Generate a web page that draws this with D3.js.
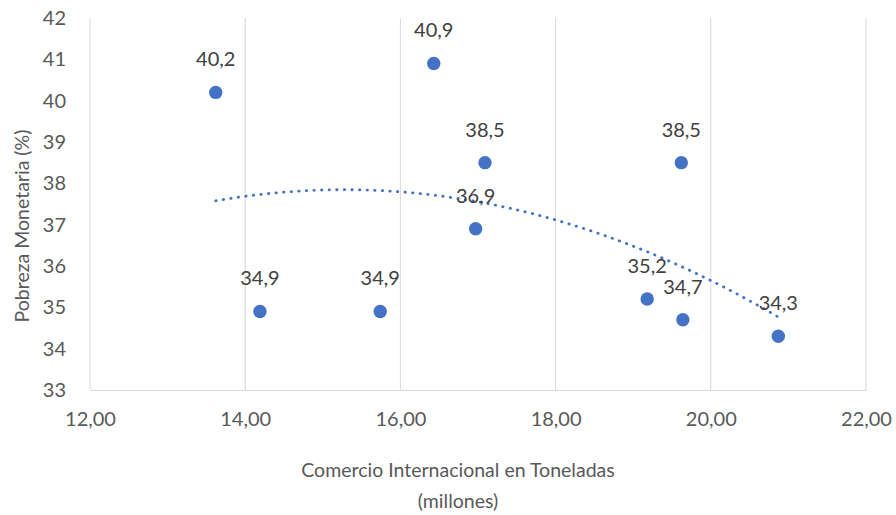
<!DOCTYPE html>
<html>
<head>
<meta charset="utf-8">
<script src="https://cdn.jsdelivr.net/npm/d3@7"></script>
<style>
  html, body { margin: 0; padding: 0; background: #fff; }
  svg { display: block; font-family: Lato, "Open Sans", sans-serif; }
</style>
</head>
<body>
<svg id="chart" width="896" height="515"></svg>
<script>
// Comercio internacional (millones de toneladas) vs. pobreza monetaria (%)
const comercio = [13.62, 14.19, 15.74, 16.43, 17.09, 16.97, 19.18, 19.62, 19.64, 20.87];
const pobreza  = [40.2, 34.9, 34.9, 40.9, 38.5, 36.9, 35.2, 38.5, 34.7, 34.3];
const xTicks = [12, 14, 16, 18, 20, 22];
const yTicks = [33, 34, 35, 36, 37, 38, 39, 40, 41, 42];

const svg = d3.select("#chart");

const x = d3.scaleLinear().domain([12, 22]).range([90, 866]);
const y = d3.scaleLinear().domain([33, 42]).range([390, 18]);

const fmtX = v => d3.format(".2f")(v).replace(".", ",");
const fmtY = v => d3.format(".1f")(v).replace(".", ",");

// vertical gridlines
svg.append("g")
  .selectAll("line")
  .data(xTicks)
  .join("line")
  .attr("x1", d => x(d)).attr("x2", d => x(d))
  .attr("y1", y(42)).attr("y2", y(33))
  .attr("stroke", "#d9d9d9").attr("stroke-width", 1);

// x axis
const xAxis = svg.append("g")
  .attr("transform", `translate(0,${y(33)})`)
  .call(d3.axisBottom(x).tickValues(xTicks).tickFormat(fmtX).tickSize(0).tickPadding(22));
xAxis.select(".domain").attr("stroke", "#d9d9d9");
xAxis.selectAll("text").attr("fill", "#595959").style("font-size", "20px").style("font-family", "Lato, sans-serif");

// y axis
const yAxis = svg.append("g")
  .attr("transform", `translate(${x(12)},0)`)
  .call(d3.axisLeft(y).tickValues(yTicks).tickFormat(d3.format("d")).tickSize(0).tickPadding(24));
yAxis.select(".domain").remove();
yAxis.selectAll("text").attr("fill", "#595959").style("font-size", "20px").style("font-family", "Lato, sans-serif");

// quadratic least-squares trendline
function polyFit2(xs, ys) {
  let s = [0, 0, 0, 0, 0], t = [0, 0, 0];
  xs.forEach((xi, i) => {
    let p = 1;
    for (let k = 0; k < 5; k++) { s[k] += p; if (k < 3) t[k] += p * ys[i]; p *= xi; }
  });
  const A = [[s[0], s[1], s[2], t[0]], [s[1], s[2], s[3], t[1]], [s[2], s[3], s[4], t[2]]];
  for (let c = 0; c < 3; c++) {
    for (let r = c + 1; r < 3; r++) {
      const f = A[r][c] / A[c][c];
      for (let k = c; k < 4; k++) A[r][k] -= f * A[c][k];
    }
  }
  const b = [0, 0, 0];
  for (let r = 2; r >= 0; r--) {
    let v = A[r][3];
    for (let k = r + 1; k < 3; k++) v -= A[r][k] * b[k];
    b[r] = v / A[r][r];
  }
  return b;
}
const coef = polyFit2(comercio, pobreza);
const [xmin, xmax] = d3.extent(comercio);
const trend = d3.range(0, 101).map(i => {
  const xv = xmin + (xmax - xmin) * i / 100;
  return [xv, coef[0] + coef[1] * xv + coef[2] * xv * xv];
});
svg.append("path")
  .datum(trend)
  .attr("fill", "none")
  .attr("stroke", "#4472c4")
  .attr("stroke-width", 2.8)
  .attr("stroke-linecap", "round")
  .attr("stroke-dasharray", "0.4 7.2")
  .attr("d", d3.line().x(d => x(d[0])).y(d => y(d[1])));

// points
const pts = comercio.map((c, i) => ({ c, p: pobreza[i] }));
svg.append("g")
  .selectAll("circle")
  .data(pts)
  .join("circle")
  .attr("cx", d => x(d.c)).attr("cy", d => y(d.p))
  .attr("r", 6.7)
  .attr("fill", "#4472c4");

// data labels
svg.append("g")
  .selectAll("text")
  .data(pts)
  .join("text")
  .attr("x", d => x(d.c)).attr("y", d => y(d.p) - 26)
  .attr("text-anchor", "middle")
  .attr("fill", "#404040")
  .style("font-size", "20px")
  .text(d => fmtY(d.p));

// axis titles
svg.append("text")
  .attr("transform", "translate(29,226) rotate(-90)")
  .attr("text-anchor", "middle")
  .attr("fill", "#595959")
  .style("font-size", "19.5px")
  .text("Pobreza Monetaria (%)");

const xt = svg.append("text")
  .attr("text-anchor", "middle")
  .attr("fill", "#595959")
  .style("font-size", "19.5px");
xt.append("tspan").attr("x", 458).attr("y", 477).text("Comercio Internacional en Toneladas");
xt.append("tspan").attr("x", 458).attr("y", 508).text("(millones)");
</script>
</body>
</html>
